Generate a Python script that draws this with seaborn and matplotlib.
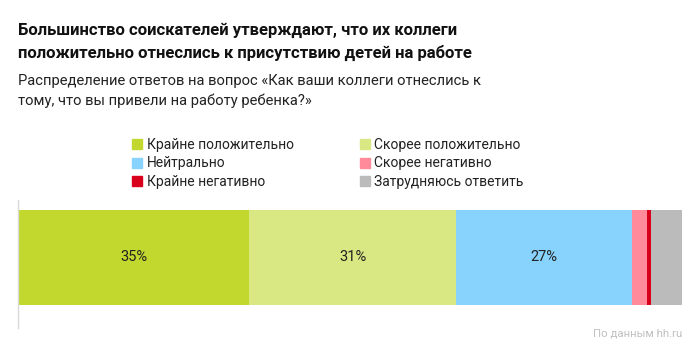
import matplotlib.pyplot as plt
import matplotlib.lines as mlines
import numpy as np
import seaborn as sns

# answer categories and their shares (%)
categories = ['Крайне положительно', 'Скорее положительно', 'Нейтрально',
              'Скорее негативно', 'Крайне негативно', 'Затрудняюсь ответить']
shares = [34.8, 31.2, 26.5, 2.3, 0.6, 4.6]
labels = ['35%', '31%', '27%', '', '', '']
colors = ['#c2d82e', '#d9e882', '#87d3fd', '#ff8a9a', '#d8001b', '#bbbbbb']

sns.set_theme(style='white')
plt.rcParams['font.family'] = ['Roboto', 'DejaVu Sans']

fig = plt.figure(figsize=(7, 3.52), dpi=100)
ax = fig.add_axes([18 / 700, 24 / 352, 664 / 700, 128 / 352])

# stacked bar: draw cumulative sums from the longest to the shortest
cum = np.cumsum(shares)
for i in reversed(range(len(shares))):
    sns.barplot(x=[cum[i]], y=[0], orient='h', color=colors[i],
                width=0.8, linewidth=0, saturation=1, ax=ax)

starts = cum - np.array(shares)
for s, w, lab in zip(starts, shares, labels):
    if lab:
        ax.text(s + w / 2, 0, lab, ha='center', va='center',
                fontsize=10.5, color='#222222')

ax.set_xlim(0, 100)
ax.set_ylim(0.594, -0.484)
ax.set_xticks([])
ax.set_yticks([])
ax.set_xlabel('')
ax.set_ylabel('')
for s in ['top', 'right', 'bottom']:
    ax.spines[s].set_visible(False)
ax.spines['left'].set_color('#d9d9d9')
ax.spines['left'].set_linewidth(1)

# titles
fig.text(18 / 700, 1 - 42 / 352,
         'Большинство соискателей утверждают, что их коллеги\n'
         'положительно отнеслись к присутствию детей на работе',
         fontsize=12.0, fontweight='bold', color='#111111',
         va='center', linespacing=1.55)
fig.text(18 / 700, 1 - 91 / 352,
         'Распределение ответов на вопрос «Как ваши коллеги отнеслись к\n'
         'тому, что вы привели на работу ребенка?»',
         fontsize=10.6, color='#222222', va='center', linespacing=1.5)

# legend, filled column by column
order = [0, 2, 4, 1, 3, 5]
handles = [mlines.Line2D([], [], marker='s', linestyle='none',
                         markersize=7, color=colors[i], label=categories[i])
           for i in order]
fig.legend(handles=handles, ncol=2, frameon=False,
           loc='upper left', bbox_to_anchor=(126 / 700, 1 - 132 / 352),
           fontsize=10, handlelength=0.8, handletextpad=0.3,
           columnspacing=4.7, labelspacing=0.35, borderaxespad=0,
           labelcolor='#222222')

fig.text(682 / 700, 1 - 333 / 352, 'По данным hh.ru', fontsize=8.2,
         color='#c0c0c0', ha='right', va='center')

plt.savefig('out.png', dpi=100)
plt.close()
